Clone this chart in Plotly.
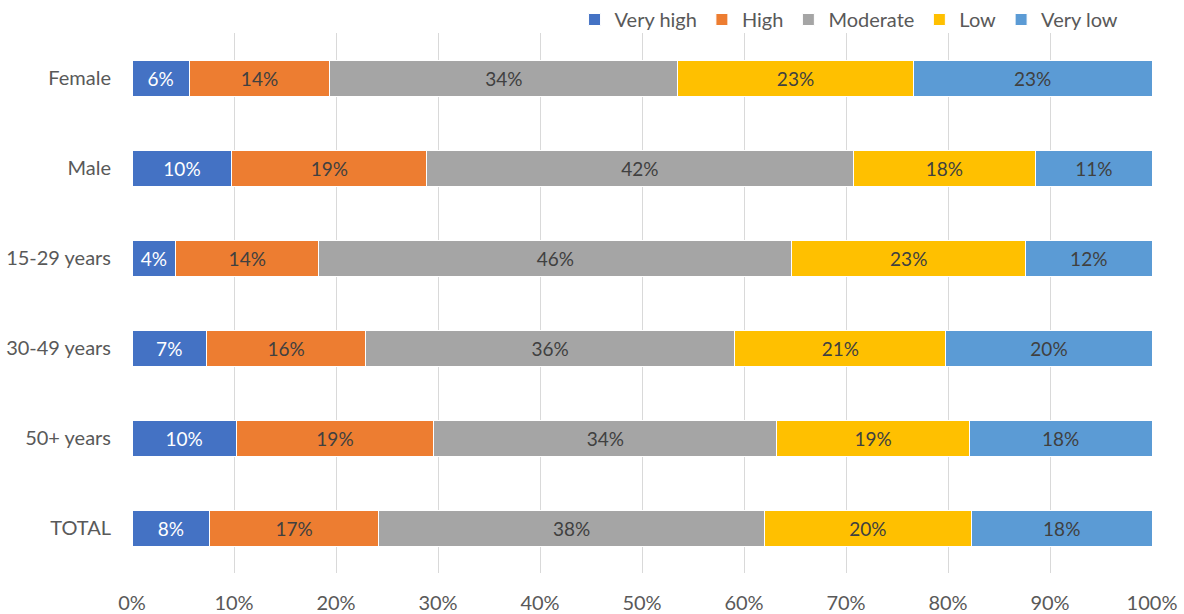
import plotly.graph_objects as go

categories = ["Female", "Male", "15-29 years", "30-49 years", "50+ years", "TOTAL"]
series_names = ["Very high", "High", "Moderate", "Low", "Very low"]
very_high = [5.6, 9.8, 4.3, 7.3, 10.2, 7.6]
high = [13.8, 19.1, 14.0, 15.6, 19.4, 16.6]
moderate = [34.1, 41.8, 46.4, 36.2, 33.6, 37.8]
low = [23.1, 17.9, 22.9, 20.7, 18.9, 20.3]
very_low = [23.4, 11.4, 12.4, 20.2, 17.9, 17.7]
tick_values = [0, 10, 20, 30, 40, 50, 60, 70, 80, 90, 100]
tick_labels = [f"{v}%" for v in tick_values]

colors = ["#4472C4", "#ED7D31", "#A5A5A5", "#FFC000", "#5B9BD5"]
text_colors = ["#FFFFFF", "#404040", "#404040", "#404040", "#404040"]
FONT = "Lato, 'Open Sans', sans-serif"
FS = 20

fig = go.Figure()
for name, vals, c, tc in zip(series_names, [very_high, high, moderate, low, very_low], colors, text_colors):
    fig.add_trace(go.Bar(
        y=categories, x=vals, name=name, orientation="h",
        marker=dict(color=c, line=dict(color="#FFFFFF", width=1)),
        texttemplate="%{x:.0f}%", textposition="inside", insidetextanchor="middle",
        textfont=dict(color=tc, size=19, family=FONT),
        constraintext="none",
        hoverinfo="x+name",
    ))

fig.update_layout(
    barmode="stack",
    bargap=0.6,
    width=1184, height=614,
    margin=dict(l=132, r=32, t=33, b=41, autoexpand=False),
    paper_bgcolor="white", plot_bgcolor="white",
    font=dict(family=FONT, size=FS, color="#595959"),
    legend=dict(orientation="h", x=0.703, xanchor="center", y=1.025, yanchor="middle",
                font=dict(size=FS, color="#595959"), traceorder="normal",
                itemwidth=30, bgcolor="rgba(0,0,0,0)"),
    xaxis=dict(range=[0, 100], tickmode="array", tickvals=tick_values, ticktext=tick_labels,
               showgrid=True, gridcolor="#D9D9D9", gridwidth=1.3,
               zeroline=False, showline=False, ticks="", ticklabelstandoff=16,
               tickfont=dict(size=FS, color="#595959")),
    yaxis=dict(autorange="reversed", showgrid=False, showline=False, ticks="",
               ticklabelstandoff=20, tickfont=dict(size=FS, color="#595959")),
)

fig.write_html("out.html", config={"displayModeBar": False},
               post_script="document.body.style.margin='0';document.body.style.overflow='hidden';")
